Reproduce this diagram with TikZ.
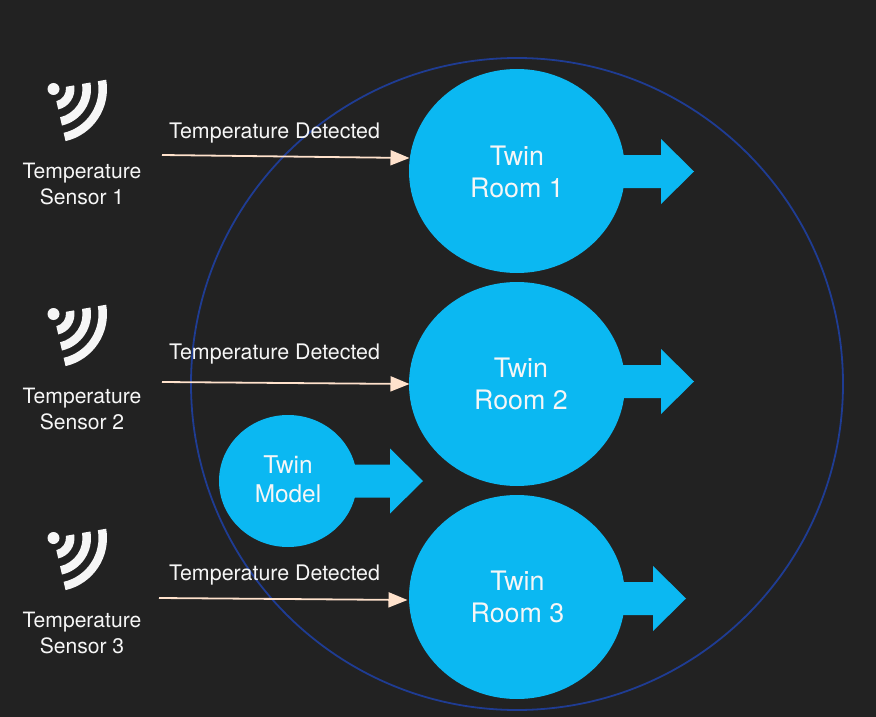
\documentclass[tikz,border=0pt]{standalone}
\usepackage{fontspec}
\setmainfont{TeX Gyre Heros}
\usetikzlibrary{arrows.meta,shapes.geometric}
\definecolor{bgdark}{HTML}{222222}
\definecolor{twinblue}{HTML}{0BB8F2}
\definecolor{ringblue}{HTML}{1F3C93}
\definecolor{peach}{HTML}{FFE2CC}
\definecolor{softwhite}{HTML}{F6F6F6}
\tikzset{
  px/.style={x=1pt,y=-1pt},
  room/.style={ellipse,fill=twinblue,draw=none,minimum width=216pt,minimum height=204pt,inner sep=0pt},
  model/.style={ellipse,fill=twinblue,draw=none,minimum width=138pt,minimum height=132pt,inner sep=0pt},
  ring/.style={ellipse,draw=ringblue,line width=1.8pt,minimum width=652pt,minimum height=652pt,inner sep=0pt},
  roomtext/.style={text=softwhite,font=\fontsize{26.8}{32}\selectfont,align=center,inner sep=0pt},
  modeltext/.style={text=softwhite,font=\fontsize{24.4}{29}\selectfont,align=center,inner sep=0pt},
  sensortext/.style={text=softwhite,font=\fontsize{21.1}{26}\selectfont,align=center,inner sep=0pt},
  detecttext/.style={text=softwhite,font=\fontsize{21.4}{26}\selectfont,inner sep=0pt},
  flow/.style={draw=peach,line width=1.8pt,-{Triangle[length=19pt,width=15pt,fill=peach]}},
  block/.style={fill=twinblue,draw=none},
  wave/.style={fill=softwhite,draw=none}
}
% #1 left x, #2 head base x, #3 tip x, #4 centre y
\newcommand{\blockarrow}[4]{%
  \fill[block] (#1,#4-16.5) -- (#2,#4-16.5) -- (#2,#4-32.5) -- (#3,#4) -- (#2,#4+32.5) -- (#2,#4+16.5) -- (#1,#4+16.5) -- cycle;}
% #1 dot centre x, #2 dot centre y
\newcommand{\wifiicon}[2]{%
  \begin{scope}[shift={(#1,#2)},x=1pt,y=1pt]
    \fill[wave] (0,0) circle (6);
    \foreach \ri/\ro in {12.5/21,29/37.5,45/53.5}{
      \fill[wave] (10:\ro) arc[start angle=10,end angle=-77,radius=\ro] -- (-77:\ri) arc[start angle=-77,end angle=10,radius=\ri] -- cycle;
    }
  \end{scope}}
\begin{document}
\begin{tikzpicture}[px]
\useasboundingbox (0,0) rectangle (876,717);
\fill[bgdark] (0,0) rectangle (876,717);

\node[ring] (bigring) at (517,384) {};

% block arrows
\blockarrow{600}{661}{694}{171.5}
\blockarrow{600}{661}{694}{381.5}
\blockarrow{600}{653}{686}{598.5}
\blockarrow{340}{390}{423}{481}

% twins
\node[room] (room1) at (517,171) {};
\node[room] (room2) at (517,384) {};
\node[room] (room3) at (517,597) {};
\node[model] (twinmodel) at (288,481) {};
\node[roomtext] (room1t) at (517,172) {Twin\\Room 1};
\node[roomtext] (room2t) at (521,384) {Twin\\Room 2};
\node[roomtext] (room3t) at (517.5,597) {Twin\\Room 3};
\node[modeltext] (modelt) at (288,479.5) {Twin\\Model};

% sensors
\wifiicon{53.5}{89}
\wifiicon{53.5}{314}
\wifiicon{53.5}{538}
\node[sensortext] (s1) at (82,184) {Temperature\\Sensor 1};
\node[sensortext] (s2) at (82,409) {Temperature\\Sensor 2};
\node[sensortext] (s3) at (82,633) {Temperature\\Sensor 3};

% flows
\coordinate (f1s) at (162,155);
\coordinate (f1e) at (409.5,158);
\coordinate (f2s) at (162,382);
\coordinate (f2e) at (409.5,384);
\coordinate (f3s) at (159,598);
\coordinate (f3e) at (407.5,600);
\draw[flow] (f1s) -- (f1e);
\draw[flow] (f2s) -- (f2e);
\draw[flow] (f3s) -- (f3e);
\node[detecttext] (d1) at (274.5,133.5) {Temperature Detected};
\node[detecttext] (d2) at (274.5,354.5) {Temperature Detected};
\node[detecttext] (d3) at (274.5,575.5) {Temperature Detected};
\end{tikzpicture}
\end{document}
